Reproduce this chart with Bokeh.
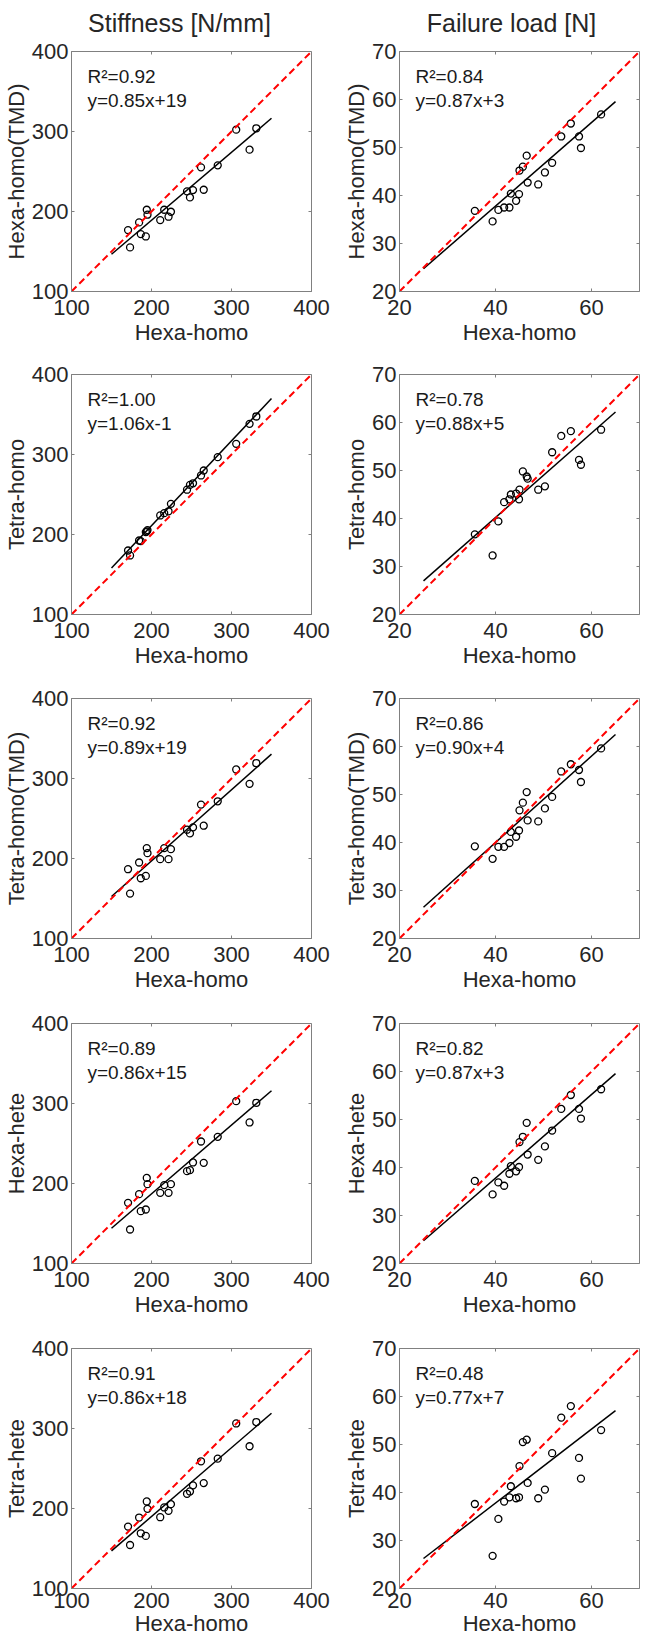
import math
from bokeh.plotting import figure
from bokeh.layouts import column, row
from bokeh.models import Range1d, FixedTicker
from bokeh.core.properties import value
from bokeh.embed import file_html
from bokeh.resources import INLINE

FONT = "Liberation Sans"
TXT = "#262626"
BOX = "#808080"

# ---------------- data ----------------
col_titles = ["Stiffness [N/mm]", "Failure load [N]"]
x_label = "Hexa-homo"
y_labels = ["Hexa-homo(TMD)", "Tetra-homo", "Tetra-homo(TMD)", "Hexa-hete", "Tetra-hete"]

stiff_ticks = [100, 200, 300, 400]
fail_xticks = [20, 40, 60]
fail_yticks = [20, 30, 40, 50, 60, 70]
stiff_lim = [100, 400]
fail_lim = [20, 70]
stiff_fit_x = [150, 350]
fail_fit_x = [25, 65]

stiff_x = [170.7, 173.2, 184.5, 186.6, 192.9, 194.1, 195.0, 210.9, 215.9, 221.3,
           224.3, 244.4, 248.1, 251.9, 261.9, 265.3, 282.8, 305.9, 322.6, 331.0]
stiff_hexa_homo_tmd = [176.8, 155.1, 186.4, 171.8, 168.8, 202.2, 196.0, 189.3, 202.2, 193.5,
                       199.7, 225.2, 217.6, 226.8, 255.2, 227.2, 257.7, 302.3, 277.3, 304.0]
stiff_tetra_homo = [180.0, 173.8, 192.5, 191.7, 203.0, 204.0, 205.5, 223.8, 226.7, 229.0,
                    238.3, 256.0, 262.0, 264.0, 273.8, 280.0, 296.7, 313.3, 338.3, 347.5]
stiff_tetra_homo_tmd = [186.6, 156.1, 195.0, 175.3, 178.2, 213.0, 206.7, 199.2, 213.0, 199.2,
                        211.7, 236.0, 231.4, 238.9, 267.4, 241.0, 271.5, 311.3, 293.3, 319.2]
stiff_hexa_hete = [175.8, 142.5, 186.7, 165.4, 167.5, 207.0, 199.2, 188.3, 198.0, 188.3,
                   199.2, 215.4, 216.7, 226.3, 252.5, 225.8, 258.3, 302.9, 276.3, 300.8]
stiff_tetra_hete = [177.4, 154.4, 188.7, 169.0, 165.7, 208.8, 199.6, 189.1, 201.3, 197.1,
                    205.4, 218.4, 221.3, 228.9, 259.0, 231.8, 262.3, 306.3, 277.8, 308.0]

fail_x = [35.7, 39.4, 40.6, 41.8, 42.9, 43.2, 44.3, 44.9, 45.0, 45.7,
          46.5, 46.7, 48.9, 50.3, 51.8, 53.7, 55.7, 57.4, 57.8, 62.0]
fail_hexa_homo_tmd = [36.8, 34.6, 37.0, 37.5, 37.5, 40.4, 38.9, 40.3, 45.2, 46.0,
                      48.3, 42.7, 42.3, 44.8, 46.8, 52.3, 55.0, 52.3, 49.9, 56.9]
fail_tetra_homo = [36.7, 32.3, 39.4, 43.4, 44.0, 45.0, 45.2, 44.0, 46.0, 49.8,
                   48.75, 48.3, 46.0, 46.7, 53.8, 57.2, 58.2, 52.2, 51.2, 58.5]
fail_tetra_homo_tmd = [39.2, 36.6, 39.1, 39.1, 39.9, 42.2, 41.2, 42.5, 46.7, 48.3,
                       50.5, 44.6, 44.4, 47.1, 49.5, 54.8, 56.3, 55.1, 52.6, 59.6]
fail_hexa_hete = [37.2, 34.4, 36.9, 36.2, 38.7, 40.3, 39.2, 40.1, 45.3, 46.4,
                  49.3, 42.7, 41.6, 44.4, 47.7, 52.2, 55.1, 52.2, 50.2, 56.3]
fail_tetra_hete = [37.6, 26.8, 34.5, 38.1, 39.0, 41.3, 38.8, 39.0, 45.5, 50.5,
                   51.0, 42.0, 38.8, 40.6, 48.2, 55.6, 58.0, 47.2, 42.9, 53.0]

stiff_r2 = ["0.92", "1.00", "0.92", "0.89", "0.91"]
stiff_slope = [0.85, 1.06, 0.89, 0.86, 0.86]
stiff_icpt = [19, -1, 19, 15, 18]
fail_r2 = ["0.84", "0.78", "0.86", "0.82", "0.48"]
fail_slope = [0.87, 0.88, 0.90, 0.87, 0.77]
fail_icpt = [3, 5, 4, 3, 7]

stiff_series = [stiff_hexa_homo_tmd, stiff_tetra_homo, stiff_tetra_homo_tmd, stiff_hexa_hete, stiff_tetra_hete]
fail_series = [fail_hexa_homo_tmd, fail_tetra_homo, fail_tetra_homo_tmd, fail_hexa_hete, fail_tetra_hete]

# ---------------- layout settings ----------------
HEADER_H = 39
HEADER_W = 646
TITLE_CX = [179, 511]       # title centres (px from left)
TITLE_BASE = 22             # title baseline (px from top)
ROW_TOP = [12, 21, 22, 23, 23]
ROW_BOTTOM = [62, 62, 62, 62, 56]
COL_LEFT = [66, 60]
COL_RIGHT = [28, 3]


def header():
    h = figure(width=HEADER_W, height=HEADER_H, x_range=Range1d(0, HEADER_W),
               y_range=Range1d(0, HEADER_H), min_border=0, toolbar_location=None,
               output_backend="svg", x_axis_location=None, y_axis_location=None)
    h.grid.visible = False
    h.outline_line_color = None
    h.background_fill_color = "white"
    h.border_fill_color = "white"
    h.text(x=TITLE_CX, y=[HEADER_H - TITLE_BASE] * 2, text=col_titles,
           text_font=value(FONT), text_font_size="25px", text_align="center",
           text_baseline="alphabetic", text_color=TXT)
    return h


def panel(xv, yv, lim, xticks, yticks, fit_x, slope, icpt, r2, ylabel, col, ri):
    lo, hi = lim
    p = figure(frame_width=240, frame_height=240,
               x_range=Range1d(lo, hi), y_range=Range1d(lo, hi),
               output_backend="svg", toolbar_location=None,
               min_border_top=ROW_TOP[ri], min_border_bottom=ROW_BOTTOM[ri],
               min_border_left=COL_LEFT[col], min_border_right=COL_RIGHT[col])
    p.grid.visible = False
    p.outline_line_color = BOX
    p.outline_line_width = 1
    p.background_fill_color = "white"
    p.border_fill_color = "white"

    for ax, ticks in ((p.xaxis[0], xticks), (p.yaxis[0], yticks)):
        ax.ticker = FixedTicker(ticks=ticks)
        ax.major_tick_in = 3
        ax.major_tick_out = 0
        ax.minor_tick_line_color = None
        ax.axis_line_color = BOX
        ax.major_tick_line_color = BOX
        ax.major_label_text_font = FONT
        ax.major_label_text_font_size = "22px"
        ax.major_label_text_color = TXT
        ax.axis_label_text_font = FONT
        ax.axis_label_text_font_size = "22px"
        ax.axis_label_text_font_style = "normal"
        ax.axis_label_text_color = TXT
    p.xaxis[0].axis_label = x_label
    p.yaxis[0].axis_label = ylabel
    p.xaxis[0].major_label_standoff = 4 if ri == 4 else 8
    p.xaxis[0].axis_label_standoff = 0 if ri == 4 else 2
    p.yaxis[0].major_label_standoff = 3
    p.yaxis[0].axis_label_standoff = 0

    # inward ticks on top and right edges (box on)
    p.ray(x=list(xticks), y=[hi] * len(xticks), length=3, length_units="screen",
          angle=-math.pi / 2, line_color=BOX, line_width=1)
    p.ray(x=[hi] * len(yticks), y=list(yticks), length=3, length_units="screen",
          angle=math.pi, line_color=BOX, line_width=1)

    # data
    p.scatter(xv, yv, marker="circle", size=7, fill_color=None, line_color="black", line_width=1.3)
    fit_y = [slope * x + icpt for x in fit_x]
    p.line(fit_x, fit_y, line_color="black", line_width=1.5)
    p.line(lim, lim, line_color="#ff0000", line_width=2, line_dash="7 4")

    span = hi - lo
    eq = "y=%.2fx%s%d" % (slope, "+" if icpt >= 0 else "-", abs(icpt))
    p.text(x=[lo + span * 16 / 240] * 2, y=[hi - span * 25 / 240, hi - span * 49 / 240],
           text=["R\u00b2=" + r2, eq], text_font=value(FONT), text_font_size="19px",
           text_baseline="middle", text_align="left", text_color="#1a1a1a")
    return p


rows = [header()]
for i in range(5):
    pl = panel(stiff_x, stiff_series[i], stiff_lim, stiff_ticks, stiff_ticks, stiff_fit_x,
               stiff_slope[i], stiff_icpt[i], stiff_r2[i], y_labels[i], 0, i)
    pr = panel(fail_x, fail_series[i], fail_lim, fail_xticks, fail_yticks, fail_fit_x,
               fail_slope[i], fail_icpt[i], fail_r2[i], y_labels[i], 1, i)
    rows.append(row(pl, pr))

layout = column(*rows)
open("out.html", "w").write(file_html(layout, INLINE, title="Stiffness and failure load"))
